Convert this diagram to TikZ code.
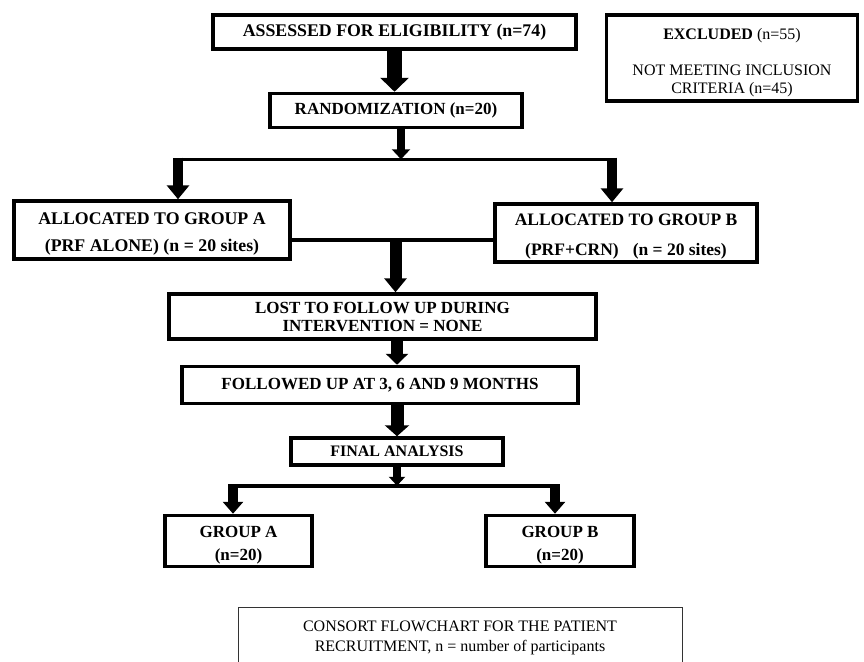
\documentclass[tikz,border=0pt]{standalone}
\usepackage{fontspec}
\setmainfont{Liberation Serif}
\usetikzlibrary{positioning, arrows.meta}

\begin{document}
\begin{tikzpicture}[x=1pt, y=1pt,
		stage/.style={draw, line width=3.5pt, align=center, inner sep=0pt, font=\bfseries\fontsize{17}{20}\selectfont},
		note/.style={draw, line width=3.5pt, align=center, inner sep=0pt, font=\fontsize{16}{18}\selectfont},
		caption/.style={draw=black!80, line width=0.8pt, align=center, inner sep=6pt, text depth=14pt, font=\fontsize{16}{20}\selectfont},
		link/.style={line width=3.5pt},
		blk/.style n args={3}{line width=#1, -{Triangle[width=#2, length=#3]}}]
			\useasboundingbox (0,0) rectangle (864,-661);
			\node (1) [stage, minimum width=363pt, minimum height=34pt, font=\bfseries\fontsize{17.8}{20}\selectfont] at (394.5,-32) {ASSESSED FOR ELIGIBILITY (n=74)};
			\node (2) [stage, minimum width=252pt, minimum height=34pt, below=41pt of 1, xshift=1.5pt] {RANDOMIZATION (n=20)};
			\node (3) [note, minimum width=251pt, minimum height=86pt, right=27pt of 1.north east, anchor=north west] {\rule{0pt}{20pt}\textbf{EXCLUDED} (n=55)\\[18pt]NOT MEETING INCLUSION\\CRITERIA (n=45)};
			\node (4) [stage, minimum width=276pt, minimum height=58pt, below=70pt of 2, xshift=-244pt, font=\bfseries\fontsize{17.8}{20}\selectfont] {\rule{0pt}{20pt}ALLOCATED TO GROUP A\\[7pt](PRF ALONE) (n = 20 sites)};
			\node (5) [stage, minimum width=262pt, minimum height=58pt, below=73pt of 2, xshift=230pt, font=\bfseries\fontsize{17.5}{20}\selectfont] {\rule{0pt}{19pt}ALLOCATED TO GROUP B\\[10pt](PRF+CRN)\hspace{0.8em}(n = 20 sites)};
			\node (6) [stage, minimum width=427pt, minimum height=45pt, below=163pt of 2, xshift=-13.5pt] {LOST TO FOLLOW UP DURING\\[-2pt]INTERVENTION = NONE};
			\node (7) [stage, minimum width=396pt, minimum height=37pt, below=24pt of 6, xshift=-2.5pt] {FOLLOWED UP AT 3, 6 AND 9 MONTHS};
			\node (8) [stage, minimum width=212pt, minimum height=27pt, below=31pt of 7, xshift=17pt, font=\bfseries\fontsize{16}{19}\selectfont] {FINAL ANALYSIS};
			\node (9) [stage, minimum width=147pt, minimum height=51pt, below=47pt of 8, xshift=-158.5pt] {\rule{0pt}{19pt}GROUP A\\[3pt](n=20)};
			\node (10) [stage, minimum width=148pt, minimum height=51pt, below=47pt of 8, xshift=163pt] {\rule{0pt}{19pt}GROUP B\\[3pt](n=20)};
			\node (11) [caption, minimum width=444pt, below=140pt of 8, xshift=63pt] {\rule{0pt}{18pt}CONSORT FLOWCHART FOR THE PATIENT\\RECRUITMENT, n = number of participants};
			\coordinate [below=30pt of 2.south, xshift=5pt] (s);
			\coordinate [left=223pt of s] (sa);
			\coordinate [right=211pt of s] (sb);
			\coordinate [below=10pt of 4.east] (j);
			\coordinate [below=19pt of 8.south] (t);
			\coordinate [left=164pt of t] (ta);
			\coordinate [right=158pt of t] (tb);
			\draw[link] (sa) -- (sb);
			\draw[link] (j) -- (j -| 5.west);
			\draw[link] (ta) -- (tb);
			\path
			(1) edge[blk={15pt}{28pt}{14pt}] (1 |- 2.north)
			(2.south -| s) edge[blk={8pt}{18pt}{10pt}] (s)
			([yshift=1.75pt]sa) edge[blk={10pt}{22pt}{14pt}] (sa |- 4.north)
			([yshift=1.75pt]sb) edge[blk={10pt}{22pt}{14pt}] (sb |- 5.north)
			([xshift=13pt]j -| 6) edge[blk={12pt}{22pt}{14pt}] ([xshift=13pt]6.north)
			(6.south -| 8) edge[blk={12pt}{22pt}{11pt}] (7.north -| 8)
			(7.south -| 8) edge[blk={13pt}{24pt}{11pt}] (8)
			(8) edge[blk={8pt}{16pt}{9pt}] (t)
			([yshift=1.75pt]ta) edge[blk={10pt}{20pt}{12pt}] (ta |- 9.north)
			([yshift=1.75pt]tb) edge[blk={10pt}{20pt}{12pt}] (tb |- 10.north);
		\end{tikzpicture}
\end{document}
